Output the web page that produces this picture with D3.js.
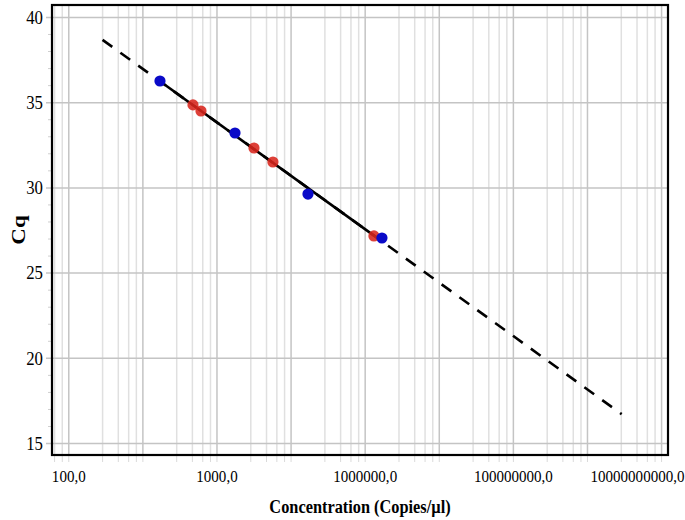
<!DOCTYPE html>
<html>
<head>
<meta charset="utf-8">
<script src="https://cdn.jsdelivr.net/npm/d3@7"></script>
<style>
  html, body { margin: 0; padding: 0; background: #fff; }
  svg { display: block; }
  text { font-family: "Liberation Serif", "Times New Roman", serif; }
</style>
</head>
<body>
<div id="chart"></div>
<script>
// data
let blueConc = [1728, 17780, 171800, 1710000];
let blueCq = [36.24, 33.19, 29.61, 27.03];
let redConc = [4820, 6180, 32060, 57800, 1333000];
let redCq = [34.84, 34.48, 32.31, 31.49, 27.15];
let fitSlope = -3.134;
let fitIntercept = 46.37;
let fitDashed = [290, 2.94e9];
let fitSolid = [1728, 1.75e6];
let xLabelValues = [1e2, 1e4, 1e6, 1e8, 1e10];
let xLabelTexts = ['100,0', '1000,0', '1000000,0', '100000000,0', '10000000000,0'];
let xMajorExp = [2, 3, 4, 5, 6, 7, 8, 9, 10];
let xMinorMult = [2.86, 4.66, 6.43, 8.17];
let yTicks = [15, 20, 25, 30, 35, 40];
let xDomain = [60.3, 1.24e10];
let yDomain = [14.3, 40.7];

let width = 685, height = 520;
let plotLeft = 52, plotRight = 668, plotTop = 5, plotBottom = 455;
let squeeze = 0.86; // the source picture's text is narrow

let svg = d3.select('#chart').append('svg')
            .attr('width', width)
            .attr('height', height);

let xScale = d3.scaleLog().domain(xDomain).range([plotLeft, plotRight]);
let yScale = d3.scaleLinear().domain(yDomain).range([plotBottom, plotTop]);

let xMajor = xMajorExp.map(e => Math.pow(10, e));
let xMinor = [];
for (let e = 1; e <= 10; e++) {
  xMinorMult.forEach(m => {
    let v = m * Math.pow(10, e);
    if (v > xDomain[0] && v < xDomain[1]) xMinor.push(v);
  });
}
let yMinor = d3.range(15, 41).filter(v => v % 5 !== 0);

// minor x gridlines
svg.append('g')
   .attr('transform', `translate(0, ${plotBottom})`)
   .call(d3.axisBottom(xScale).tickValues(xMinor).tickSize(-(plotBottom - plotTop)).tickFormat(''))
   .call(g => g.select('.domain').remove())
   .selectAll('line').attr('stroke', '#e0e0e0').attr('stroke-width', 1.5);

// major x gridlines
svg.append('g')
   .attr('transform', `translate(0, ${plotBottom})`)
   .call(d3.axisBottom(xScale).tickValues(xMajor).tickSize(-(plotBottom - plotTop)).tickFormat(''))
   .call(g => g.select('.domain').remove())
   .selectAll('line').attr('stroke', '#c4c4c4').attr('stroke-width', 1.5);

// small ticks under the bottom border
svg.append('g')
   .attr('transform', `translate(0, ${plotBottom})`)
   .call(d3.axisBottom(xScale).tickValues(xMajor.concat(xMinor)).tickSize(7).tickFormat(''))
   .call(g => g.select('.domain').remove())
   .selectAll('line').attr('stroke', '#dadada');

// y gridlines
svg.append('g')
   .attr('transform', `translate(${plotRight}, 0)`)
   .call(d3.axisLeft(yScale).tickValues(yTicks).tickSize(plotRight - plotLeft + 6).tickFormat(''))
   .call(g => g.select('.domain').remove())
   .selectAll('line').attr('stroke', '#c4c4c4').attr('stroke-width', 1.5);

// y minor ticks
svg.append('g')
   .attr('transform', `translate(${plotLeft}, 0)`)
   .call(d3.axisLeft(yScale).tickValues(yMinor).tickSize(4).tickFormat(''))
   .call(g => g.select('.domain').remove())
   .selectAll('line').attr('stroke', '#cfcfcf');

// y labels
svg.append('g')
   .attr('transform', `translate(${plotLeft - 9}, 0)`)
   .call(d3.axisLeft(yScale).tickValues(yTicks).tickSize(0).tickPadding(0))
   .call(g => g.select('.domain').remove())
   .selectAll('text')
   .attr('fill', '#000')
   .attr('transform', `scale(${squeeze}, 1)`)
   .style('font-size', '19.5px')
   .style('font-family', '"Liberation Serif", serif');

// x labels
let xl = svg.append('g')
   .attr('transform', `translate(0, ${plotBottom})`)
   .call(d3.axisBottom(xScale).tickValues(xLabelValues).tickSize(0).tickPadding(15)
           .tickFormat((v, i) => xLabelTexts[i]))
   .call(g => g.select('.domain').remove());
xl.selectAll('text')
  .attr('fill', '#000')
  .attr('transform', `scale(${squeeze}, 1)`)
  .style('font-size', '17.5px')
  .style('font-family', '"Liberation Serif", serif')
  .each(function(d) {
    let b = this.getBBox();
    let over = xScale(d) + (b.x + b.width) * squeeze - (width - 1);
    if (over > 0) d3.select(this).attr('x', -over / squeeze);
  });

// fit line
let fitLine = d3.line()
  .x(d => xScale(d))
  .y(d => yScale(fitSlope * Math.log10(d) + fitIntercept));

svg.append('path')
   .datum(fitDashed)
   .attr('d', fitLine)
   .attr('fill', 'none')
   .attr('stroke', '#000')
   .attr('stroke-width', 2.6)
   .attr('stroke-dasharray', '12 10');

svg.append('path')
   .datum(fitSolid)
   .attr('d', fitLine)
   .attr('fill', 'none')
   .attr('stroke', '#000')
   .attr('stroke-width', 2.6);

// points
svg.append('g').selectAll('circle')
   .data(redConc)
   .enter()
   .append('circle')
   .attr('cx', d => xScale(d))
   .attr('cy', (d, i) => yScale(redCq[i]))
   .attr('r', 5.6)
   .attr('fill', '#d8261c')
   .attr('fill-opacity', 0.88);

svg.append('g').selectAll('circle')
   .data(blueConc)
   .enter()
   .append('circle')
   .attr('cx', d => xScale(d))
   .attr('cy', (d, i) => yScale(blueCq[i]))
   .attr('r', 5.6)
   .attr('fill', '#0a0ac8');

// frame
svg.append('rect')
   .attr('x', plotLeft)
   .attr('y', plotTop)
   .attr('width', plotRight - plotLeft)
   .attr('height', plotBottom - plotTop)
   .attr('fill', 'none')
   .attr('stroke', '#000')
   .attr('stroke-width', 2.2);

// axis titles
svg.append('text')
   .attr('transform', `translate(25, ${(plotTop + plotBottom) / 2}) rotate(-90) scale(1, ${squeeze})`)
   .attr('text-anchor', 'middle')
   .style('font-size', '23px')
   .style('font-weight', 'bold')
   .text('Cq');

svg.append('text')
   .attr('transform', `translate(${(plotLeft + plotRight) / 2}, 513) scale(${squeeze}, 1)`)
   .attr('text-anchor', 'middle')
   .style('font-size', '19px')
   .style('font-weight', 'bold')
   .text('Concentration (Copies/µl)');
</script>
</body>
</html>
